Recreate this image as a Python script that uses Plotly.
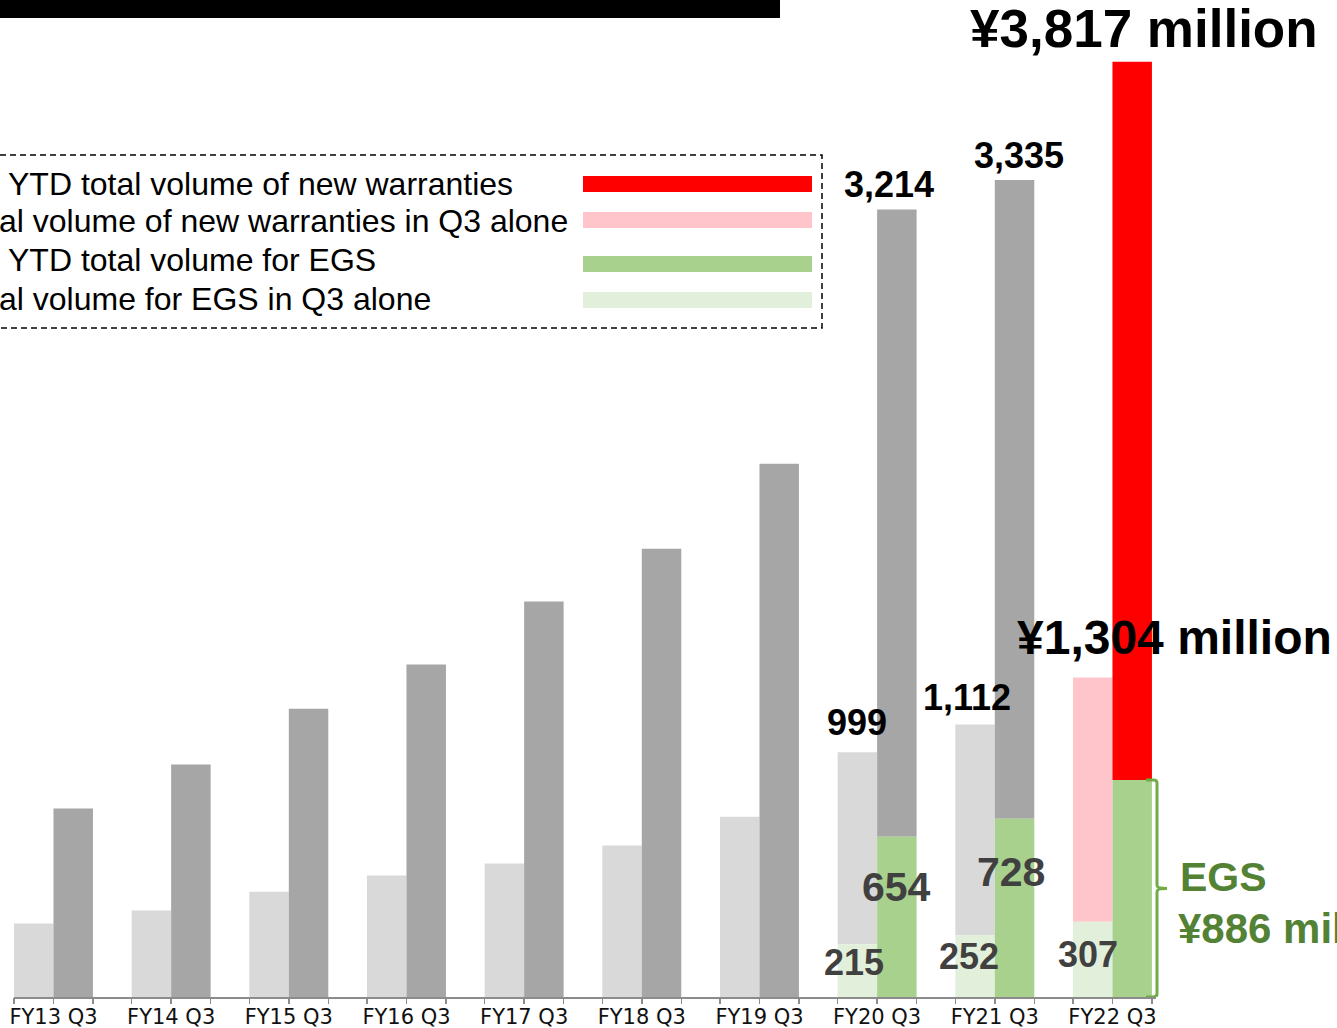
import plotly.graph_objects as go

# ---------------- data ----------------
categories = ["FY13 Q3", "FY14 Q3", "FY15 Q3", "FY16 Q3", "FY17 Q3",
              "FY18 Q3", "FY19 Q3", "FY20 Q3", "FY21 Q3", "FY22 Q3"]
q3_alone = [300, 353, 430, 496, 545, 618, 736, 999, 1112, 1304]
ytd_total = [769, 949, 1177, 1357, 1614, 1830, 2177, 3214, 3335, 3817]
egs_q3_alone = [0, 0, 0, 0, 0, 0, 0, 215, 252, 307]
egs_ytd = [0, 0, 0, 0, 0, 0, 0, 654, 728, 886]

legend_labels = [
    "YTD total volume of new warranties",
    "al volume of new warranties in Q3 alone",
    "YTD total volume for EGS",
    "al volume for EGS in Q3 alone",
]

# ---------------- styling ----------------
W, H = 1337, 1028
L, R, T, B = 14, 181, 17, 31
PW, PH = W - L - R, H - T - B
BW = 0.3355          # bar width in category units
XR = [-BW, 9.37]
YR = [0, 4000]

C_LGRAY = "#D9D9D9"
C_DGRAY = "#A6A6A6"
C_RED = "#FF0000"
C_PINK = "#FFC5CB"
C_GREEN = "#A9D18E"
C_LGREEN = "#E2EFDA"
C_EGS_TXT = "#548235"
C_BRACE = "#70AD47"
AX = "#8C8C8C"
FONT = "Liberation Sans, Arial, sans-serif"


def pxx(px):
    return (px - L) / PW


def pxy(py):
    return (H - B - py) / PH


last = len(categories) - 1
hist = categories[:last]

fig = go.Figure()

# Q3-alone group (left bar of each pair)
fig.add_bar(x=hist, y=[q - e for q, e in zip(q3_alone[:last], egs_q3_alone[:last])],
            base=egs_q3_alone[:last], marker_color=C_LGRAY,
            offset=-BW, width=BW, name="Q3 alone")
fig.add_bar(x=[categories[last]], y=[q3_alone[last] - egs_q3_alone[last]],
            base=[egs_q3_alone[last]], marker_color=C_PINK,
            offset=-BW, width=BW, name="Q3 alone (FY22)")
fig.add_bar(x=categories[7:], y=egs_q3_alone[7:], marker_color=C_LGREEN,
            offset=-BW, width=BW, name="EGS Q3 alone")

# YTD group (right bar of each pair)
fig.add_bar(x=hist, y=[t - e for t, e in zip(ytd_total[:last], egs_ytd[:last])],
            base=egs_ytd[:last], marker_color=C_DGRAY,
            offset=0, width=BW, name="YTD")
fig.add_bar(x=[categories[last]], y=[ytd_total[last] - egs_ytd[last]],
            base=[egs_ytd[last]], marker_color=C_RED,
            offset=0, width=BW, name="YTD (FY22)")
fig.add_bar(x=categories[7:], y=egs_ytd[7:], marker_color=C_GREEN,
            offset=0, width=BW, name="EGS YTD")

for tr in fig.data:
    tr.marker.line.width = 0

# helper trace for bar-edge tick marks
fig.add_scatter(x=[], y=[], xaxis="x2", yaxis="y", showlegend=False)
tick_pos = []
for i in range(len(categories)):
    tick_pos += [i - BW, i, i + BW]

annotations = []


def lab(cat, val, text, xs, ys, size, color):
    annotations.append(dict(x=cat, y=val, xref="x", yref="y", text=f"<b>{text}</b>",
                            showarrow=False, xanchor="center", yanchor="middle",
                            xshift=xs, yshift=ys,
                            font=dict(family=FONT, size=size, color=color)))


lab(categories[7], ytd_total[7], f"{ytd_total[7]:,}", 12, 25, 36, "#000000")
lab(categories[8], ytd_total[8], f"{ytd_total[8]:,}", 24, 24, 36, "#000000")
lab(categories[9], ytd_total[9], f"¥{ytd_total[9]:,} million", 32, 33, 53, "#000000")
lab(categories[7], q3_alone[7], f"{q3_alone[7]:,}", -20, 30, 36, "#000000")
lab(categories[8], q3_alone[8], f"{q3_alone[8]:,}", -28, 27, 36, "#000000")
lab(categories[9], q3_alone[9], f"¥{q3_alone[9]:,} million", 62, 40, 48, "#000000")
lab(categories[7], egs_ytd[7], f"{egs_ytd[7]}", 19, -50, 41, "#404040")
lab(categories[8], egs_ytd[8], f"{egs_ytd[8]}", 16, -53, 41, "#404040")
lab(categories[7], egs_q3_alone[7], f"{egs_q3_alone[7]}", -23, -18, 36, "#404040")
lab(categories[8], egs_q3_alone[8], f"{egs_q3_alone[8]}", -26, -21, 36, "#404040")
lab(categories[9], egs_q3_alone[9], f"{egs_q3_alone[9]}", -24, -33, 36, "#404040")

# EGS brace text
annotations.append(dict(x=pxx(1178), y=pxy(877), xref="paper", yref="paper",
                        text="<b>EGS</b>", showarrow=False, xanchor="left", yanchor="middle",
                        font=dict(family=FONT, size=41, color=C_EGS_TXT)))
annotations.append(dict(x=pxx(1176), y=pxy(928), xref="paper", yref="paper",
                        text=f"<b>¥{egs_ytd[9]} million</b>", showarrow=False,
                        xanchor="left", yanchor="middle",
                        font=dict(family=FONT, size=42, color=C_EGS_TXT)))

# legend texts
leg_y = [184, 221, 260, 299]
leg_x = [6, -3, 6, -3]
for t, yy, xx in zip(legend_labels, leg_y, leg_x):
    annotations.append(dict(x=pxx(xx), y=pxy(yy), xref="paper", yref="paper", text=t,
                            showarrow=False, xanchor="left", yanchor="middle",
                            font=dict(family=FONT, size=32, color="#000000")))

shapes = []
# top black title bar
shapes.append(dict(type="rect", xref="paper", yref="paper",
                   x0=pxx(0), x1=pxx(780), y0=pxy(0), y1=pxy(18),
                   fillcolor="#000000", line=dict(width=0), layer="above"))
# legend dashed box (left side off-canvas)
box_path = (f"M {pxx(0)},{pxy(155)} L {pxx(822)},{pxy(155)} "
            f"L {pxx(822)},{pxy(328)} L {pxx(0)},{pxy(328)}")
shapes.append(dict(type="path", xref="paper", yref="paper", path=box_path,
                   line=dict(color="#000000", width=1.5, dash="6px,4px")))
# legend swatches
for col, (y0, y1) in zip([C_RED, C_PINK, C_GREEN, C_LGREEN],
                         [(176, 192), (212, 228), (256, 272), (292, 308)]):
    shapes.append(dict(type="rect", xref="paper", yref="paper",
                       x0=pxx(583), x1=pxx(812), y0=pxy(y0), y1=pxy(y1),
                       fillcolor=col, line=dict(width=0)))

# EGS brace (x in paper, y in data)
bx = pxx(1157)
bl = pxx(1146)
bn = pxx(1167)
top = egs_ytd[9]
mid = egs_ytd[9] / 2
r_ = 12
brace = (f"M {bl},{top} L {pxx(1153)},{top} Q {bx},{top} {bx},{top - r_} "
         f"L {bx},{mid + r_} Q {bx},{mid} {bn},{mid} "
         f"M {bx},{mid - r_} Q {bx},{mid} {bn},{mid} "
         f"M {bx},{mid - r_} L {bx},{r_} Q {bx},0 {pxx(1153)},0 L {bl},0")
shapes.append(dict(type="path", xref="paper", yref="y", path=brace,
                   line=dict(color=C_BRACE, width=3)))

fig.update_layout(
    width=W, height=H,
    margin=dict(l=L, r=R, t=T, b=B, pad=0, autoexpand=False),
    plot_bgcolor="white", paper_bgcolor="white",
    barmode="overlay", showlegend=False,
    xaxis=dict(type="category", categoryorder="array", categoryarray=categories,
               range=XR, showline=True, linecolor=AX, linewidth=2,
               ticks="", showgrid=False, zeroline=False, automargin=False,
               tickfont=dict(family="DejaVu Sans, Verdana, sans-serif", size=21,
                             color="#111111"),
               ticklabelstandoff=0),
    xaxis2=dict(overlaying="x", anchor="y", side="bottom", type="linear", range=XR,
                tickmode="array", tickvals=tick_pos, ticks="outside", ticklen=6,
                tickwidth=1.5, tickcolor=AX, showticklabels=False, automargin=False,
                showline=False, showgrid=False, zeroline=False),
    yaxis=dict(range=YR, visible=False, showgrid=False, zeroline=False, automargin=False),
    annotations=annotations,
    shapes=shapes,
)

fig.write_html("out.html", config={"displayModeBar": False, "staticPlot": True},
               post_script="document.body.style.margin='0';document.body.style.overflow='hidden';")
